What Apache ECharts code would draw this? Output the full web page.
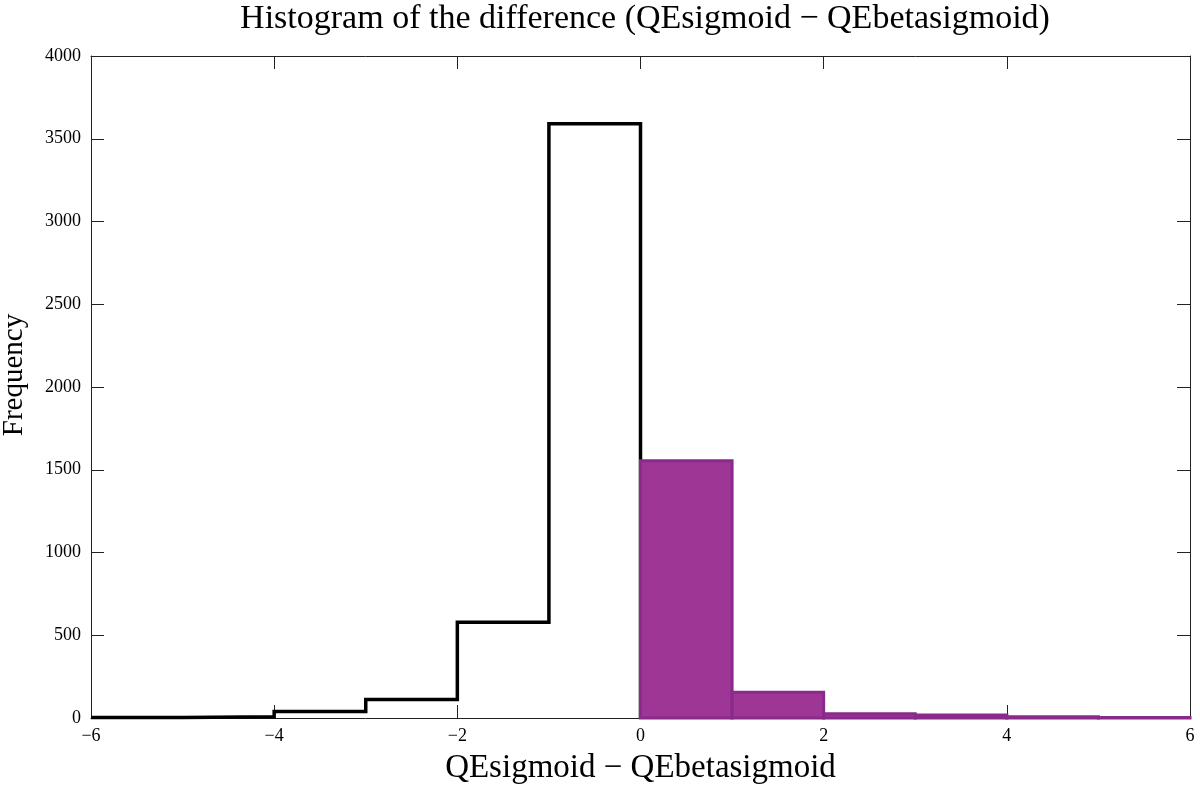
<!DOCTYPE html>
<html>
<head>
<meta charset="utf-8">
<script src="https://cdn.jsdelivr.net/npm/echarts@6/dist/echarts.min.js"></script>
<style>html,body{margin:0;padding:0;background:#fff}#c{width:1200px;height:794px}</style>
</head>
<body>
<div id="c"></div>
<script>
// Negative-side bins (black outline)
var negEdges = [-6, -5, -4, -3, -2, -1, 0];
var negCounts = [3, 8, 40, 112, 578, 3590];
// Positive-side bins (purple filled)
var posEdges = [0, 1, 2, 3, 4, 5, 6];
var posCounts = [1555, 155, 26, 18, 8, 3];
var xTicks = [-6, -4, -2, 0, 2, 4, 6];
var yTicks = [0, 500, 1000, 1500, 2000, 2500, 3000, 3500, 4000];

var FONT = '"Liberation Serif", "DejaVu Serif", serif';

// build step outline from bins
var stepPts = [];
for (var i = 0; i < negCounts.length; i++) {
  stepPts.push([negEdges[i], negCounts[i]]);
  stepPts.push([negEdges[i + 1], negCounts[i]]);
}
stepPts.push([negEdges[negEdges.length - 1], 0]);

var posData = posCounts.map(function (c, i) { return [posEdges[i], posEdges[i + 1], c]; });

function fmt(v) { return String(v).replace('-', '\u2212'); }

var chart = echarts.init(document.getElementById('c'), null, { renderer: 'canvas' });
var axisLineStyle = { color: '#222', width: 1 };
chart.setOption({
  animation: false,
  backgroundColor: '#fff',
  title: {
    text: 'Histogram of the difference (QEsigmoid \u2212 QEbetasigmoid)',
    left: 640, textAlign: 'center', top: -3,
    textStyle: { fontFamily: FONT, fontSize: 34, fontWeight: 'normal', color: '#000' }
  },
  graphic: [{
    type: 'text', x: 14, y: 375, rotation: Math.PI / 2, z: 10,
    style: { text: 'Frequency', fontFamily: FONT, fontSize: 29, fill: '#000', textAlign: 'center', textVerticalAlign: 'middle' }
  }],
  grid: { left: 91, right: 10, top: 56, bottom: 76, outerBoundsMode: 'none', containLabel: false },
  xAxis: [{
    type: 'value', min: -6, max: 6, interval: 2, position: 'bottom',
    name: 'QEsigmoid \u2212 QEbetasigmoid', nameLocation: 'middle', nameGap: 34,
    nameTextStyle: { fontFamily: FONT, fontSize: 33, color: '#000' },
    axisLine: { show: true, onZero: false, lineStyle: axisLineStyle },
    axisTick: { show: true, inside: true, length: 13, lineStyle: axisLineStyle },
    axisLabel: { fontFamily: FONT, fontSize: 18, color: '#000', margin: 9, formatter: fmt },
    splitLine: { show: false }
  }, {
    type: 'value', min: -6, max: 6, interval: 2, position: 'top',
    axisLine: { show: true, onZero: false, lineStyle: axisLineStyle },
    axisTick: { show: true, inside: true, length: 13, lineStyle: axisLineStyle },
    axisLabel: { show: false }, splitLine: { show: false }
  }],
  yAxis: [{
    type: 'value', min: 0, max: 4000, interval: 500, position: 'left',
    axisLine: { show: true, onZero: false, lineStyle: axisLineStyle },
    axisTick: { show: true, inside: true, length: 13, lineStyle: axisLineStyle },
    axisLabel: { fontFamily: FONT, fontSize: 18, color: '#000', margin: 10, formatter: function (v) { return String(v); } },
    splitLine: { show: false }
  }, {
    type: 'value', min: 0, max: 4000, interval: 500, position: 'right',
    axisLine: { show: true, onZero: false, lineStyle: axisLineStyle },
    axisTick: { show: true, inside: true, length: 13, lineStyle: axisLineStyle },
    axisLabel: { show: false }, splitLine: { show: false }
  }],
  series: [{
    type: 'line', data: stepPts, showSymbol: false, symbol: 'none', z: 3,
    lineStyle: { color: '#000', width: 3.5, join: 'miter' }, clip: false
  }, {
    type: 'custom', data: posData, z: 4, clip: false,
    renderItem: function (params, api) {
      var p0 = api.coord([api.value(0), api.value(2)]);
      var p1 = api.coord([api.value(1), 0]);
      return {
        type: 'rect',
        shape: { x: p0[0], y: p0[1], width: p1[0] - p0[0], height: p1[1] - p0[1] },
        style: { fill: '#9d3694', stroke: '#8a2a8a', lineWidth: 3 }
      };
    },
    encode: { x: [0, 1], y: 2 }
  }]
});
</script>
</body>
</html>
